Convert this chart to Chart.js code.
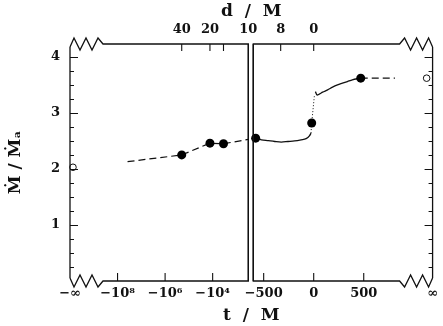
<!DOCTYPE html>
<html>
<head>
<meta charset="utf-8">
<script src="https://cdn.jsdelivr.net/npm/chart.js@4.4.1/dist/chart.umd.min.js"></script>
<style>
  html, body { margin: 0; padding: 0; background: #fff; }
  #wrap { width: 443px; height: 326px; }
</style>
</head>
<body>
<div id="wrap"><canvas id="graf"></canvas></div>
<script>
// bottom axis t / M
const tTickT = [-Infinity, -1e8, -1e6, -1e4, -500, 0, 500, Infinity];
const tTickLabels = ['\u2212\u221E', '\u221210\u2078', '\u221210\u2076', '\u221210\u2074', '\u2212500', '0', '500', '\u221E'];

// top axis d / M (panel L = log part, R = linear part)
const dTickT = [-2e5, -1.3e4, -3.5e3, -316, -330, 0];
const dTickPanel = ['L', 'L', 'L', 'L', 'R', 'R'];
const dTickLabels = ['40', '20', '', '10', '8', '0'];
const dTickMark = [true, true, true, false, true, true];

// y axis
const yTicks = [1, 2, 3, 4];
const yMinorStep = 0.25;

// dashed part, log time axis, runs into the first point of the right panel
const leftT = [-3.8e7, -2e5, -1.3e4, -3.5e3, -580];
const leftY = [2.13, 2.25, 2.46, 2.45, 2.55];

// solid curve before merger
const inspT = [-580, -522, -455, -389, -324, -257, -191, -126, -76, -43, -27];
const inspY = [2.55, 2.52, 2.505, 2.49, 2.48, 2.49, 2.50, 2.52, 2.54, 2.59, 2.64];

// dotted jump
const jumpT = [-27, -20, 8];
const jumpY = [2.64, 2.82, 3.33];

// solid curve after merger
const postT = [17, 33, 60, 89, 139, 188, 238, 287, 337, 386, 436, 470];
const postY = [3.38, 3.32, 3.34, 3.37, 3.41, 3.46, 3.50, 3.53, 3.56, 3.59, 3.61, 3.62];

// dashed tail
const tailT = [470, 812];
const tailY = [3.62, 3.62];

// filled dots
const markT = [-2e5, -1.3e4, -3.5e3, -580, -20, 470];
const markY = [2.25, 2.46, 2.45, 2.55, 2.82, 3.62];

// open circles at t = -inf / +inf
const asymT = [-Infinity, Infinity];
const asymY = [2.03, 3.62];

const uMax = 366;
const yMax = 4.23;

// position on the broken axis: log(-t) on the left, linear on the right
function toU(t, panel) {
    if (t === -Infinity) return 0;
    if (t === Infinity) return uMax;
    if (panel === 'L' || (!panel && t < -600)) return 240 - 24 * Math.log10(-t);
    return 246 + t * 0.101;
}
const gapL = toU(-316, 'L');
const gapR = toU(-604, 'R');

function pts(ts, ys) {
    return ts.map((t, i) => ({ x: toU(t), y: ys[i] }));
}

const ink = '#111';
const tickFont = { family: "'DejaVu Serif', serif", weight: 'bold', size: 13 };
const titleFont = { family: "'DejaVu Serif', serif", weight: 'bold', size: 17 };

// frame, zigzags, inward ticks and the gap between both panels
const ramik = {
    id: 'ramik',
    beforeDatasetDraw(chart, args) {
        if (args.index !== 1) return;
        const { ctx, chartArea: a, scales: { x } } = chart;
        const gl = x.getPixelForValue(gapL), gr = x.getPixelForValue(gapR);
        ctx.save();
        ctx.fillStyle = '#fff';
        ctx.fillRect(gl, a.top - 2, gr - gl, a.bottom - a.top + 4);
        ctx.restore();
    },
    afterDraw(chart) {
        const { ctx, chartArea: a, scales: { x, y } } = chart;
        const L = a.left, R = a.right, T = a.top, B = a.bottom;
        const gl = x.getPixelForValue(gapL), gr = x.getPixelForValue(gapR);
        const zx = [0, 4, 10, 16, 22, 28, 33];
        const zy = [3, -6, 6, -6, 6, -6, 0];

        ctx.save();
        ctx.strokeStyle = ink;
        ctx.lineWidth = 1.3;
        ctx.lineJoin = 'miter';

        // top and bottom with zigzags
        [[T, 1], [B, -1]].forEach(([Y, s]) => {
            ctx.beginPath();
            ctx.moveTo(L + zx[0], Y + s * zy[0]);
            for (let i = 1; i < zx.length; i++) ctx.lineTo(L + zx[i], Y + s * zy[i]);
            ctx.lineTo(gl, Y);
            ctx.lineTo(gl, s > 0 ? B : T);
            ctx.stroke();

            ctx.beginPath();
            ctx.moveTo(R - zx[0], Y + s * zy[0]);
            for (let i = 1; i < zx.length; i++) ctx.lineTo(R - zx[i], Y + s * zy[i]);
            ctx.lineTo(gr, Y);
            ctx.lineTo(gr, s > 0 ? B : T);
            ctx.stroke();
        });

        // side lines
        ctx.beginPath();
        ctx.moveTo(L, T + zy[0]); ctx.lineTo(L, B - zy[0]);
        ctx.moveTo(R, T + zy[0]); ctx.lineTo(R, B - zy[0]);
        ctx.stroke();

        // y ticks on both sides
        ctx.lineWidth = 1.1;
        ctx.beginPath();
        for (let v = yMinorStep; v <= 4 + 1e-9; v += yMinorStep) {
            const py = Math.round(y.getPixelForValue(v)) + 0.5;
            const len = Math.abs(v - Math.round(v)) < 1e-6 ? 8 : 4;
            ctx.moveTo(L, py); ctx.lineTo(L + len, py);
            ctx.moveTo(R, py); ctx.lineTo(R - len, py);
        }
        // bottom ticks
        tTickT.forEach(t => {
            if (!isFinite(t)) return;
            const px = x.getPixelForValue(toU(t));
            ctx.moveTo(px, B); ctx.lineTo(px, B - 8);
        });
        // top ticks
        dTickT.forEach((t, i) => {
            if (!dTickMark[i]) return;
            const px = x.getPixelForValue(toU(t, dTickPanel[i]));
            ctx.moveTo(px, T); ctx.lineTo(px, T + 7);
        });
        ctx.stroke();
        ctx.restore();
    }
};

const ctx = document.getElementById('graf').getContext('2d');
new Chart(ctx, {
    type: 'line',
    data: {
        datasets: [
            { data: pts(markT, markY), showLine: false, pointRadius: 4.5, pointBackgroundColor: '#000', pointBorderColor: '#000', pointBorderWidth: 0 },
            { data: asymT.map((t, i) => ({ x: toU(t) + (t < 0 ? 3 : -6), y: asymY[i] })), showLine: false, pointRadius: 3.3, pointBackgroundColor: '#fff', pointBorderColor: ink, pointBorderWidth: 1, clip: false },
            { data: pts(leftT, leftY), borderColor: ink, borderWidth: 1.2, borderDash: [7, 4], pointRadius: 0 },
            { data: pts(inspT, inspY), borderColor: ink, borderWidth: 1.3, pointRadius: 0, cubicInterpolationMode: 'monotone' },
            { data: pts(jumpT, jumpY), borderColor: ink, borderWidth: 1, borderDash: [1, 2], pointRadius: 0 },
            { data: pts(postT, postY), borderColor: ink, borderWidth: 1.3, pointRadius: 0, cubicInterpolationMode: 'monotone' },
            { data: pts(tailT, tailY), borderColor: ink, borderWidth: 1.2, borderDash: [7, 4], pointRadius: 0 }
        ]
    },
    options: {
        responsive: true,
        maintainAspectRatio: false,
        animation: false,
        devicePixelRatio: 1,
        layout: { padding: { left: 0, right: 7, top: 0, bottom: 0 } },
        plugins: { legend: { display: false }, tooltip: { enabled: false } },
        scales: {
            x: {
                type: 'linear', position: 'bottom', min: 0, max: uMax,
                grid: { display: false, drawTicks: false }, border: { display: false },
                afterBuildTicks: s => { s.ticks = tTickT.map(t => ({ value: toU(t) })); },
                afterFit: s => { s.height = 45; },
                ticks: { autoSkip: false, maxRotation: 0, padding: 5, color: ink, font: tickFont, callback: (v, i) => tTickLabels[i] },
                title: { display: true, text: 't  /  M', color: ink, font: titleFont, padding: 0 }
            },
            x2: {
                type: 'linear', position: 'top', min: 0, max: uMax,
                grid: { display: false, drawTicks: false }, border: { display: false },
                afterBuildTicks: s => { s.ticks = dTickT.map((t, i) => ({ value: toU(t, dTickPanel[i]) })); },
                afterFit: s => { s.height = 44; },
                ticks: { autoSkip: false, maxRotation: 0, padding: 7, color: ink, font: tickFont, callback: (v, i) => dTickLabels[i] },
                title: { display: true, text: 'd  /  M', color: ink, font: titleFont, padding: { top: 1, bottom: 0 } }
            },
            y: {
                min: 0, max: yMax,
                grid: { display: false, drawTicks: false }, border: { display: false },
                afterBuildTicks: s => { s.ticks = yTicks.map(v => ({ value: v })); },
                afterFit: s => { s.width = 70; },
                ticks: { padding: 10, color: ink, font: tickFont, callback: v => String(v) },
                title: { display: true, text: '\u1E40 / \u1E40\u2090', color: ink, font: titleFont, padding: { top: 5, bottom: 0 } }
            }
        }
    },
    plugins: [ramik]
});
</script>
</body>
</html>
